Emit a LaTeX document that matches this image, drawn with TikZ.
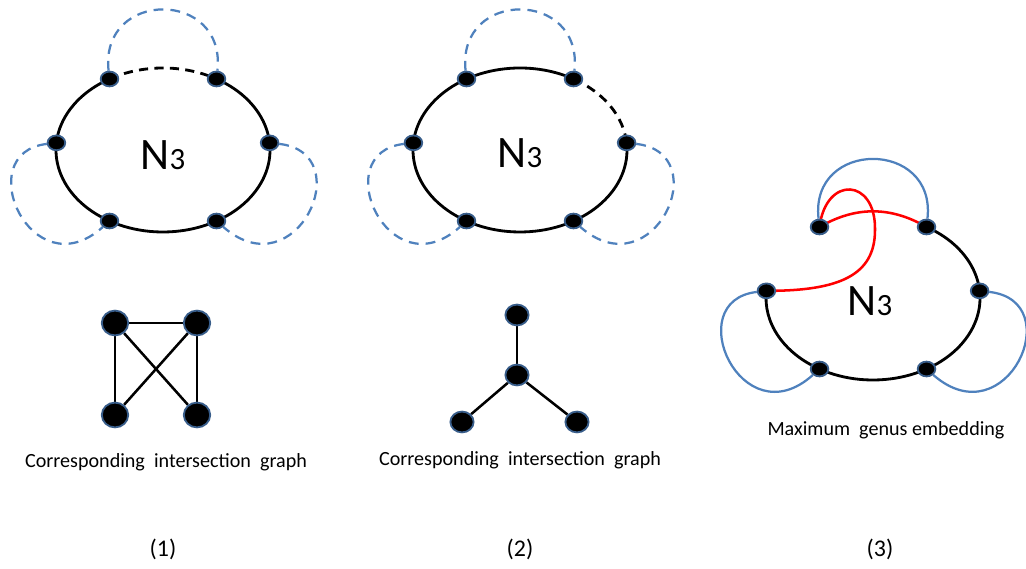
\documentclass[tikz,border=0pt]{standalone}
\usepackage{fontspec}
\setmainfont{Carlito}
\usetikzlibrary{calc,positioning,shapes.geometric,backgrounds}
\definecolor{loopblue}{HTML}{4F81BD}
\definecolor{dotrim}{HTML}{385D8A}
\definecolor{cutred}{HTML}{FF0000}

\begin{document}
\begin{tikzpicture}[x=0.025cm, y=0.025cm,
  every node/.style={font=\fontsize{14.3}{16}\selectfont},
  ring/.style={line width=2pt},
  ringdash/.style={ring, dash pattern=on 6.5pt off 4.5pt},
  dot/.style={ellipse, draw=dotrim, fill=black, line width=1.3pt, minimum width=0.44cm, minimum height=0.37cm, inner sep=0pt},
  bigdot/.style={dot, minimum width=0.66cm, minimum height=0.62cm},
  stardot/.style={dot, minimum width=0.58cm, minimum height=0.52cm},
  dashloop/.style={loopblue, line width=1.6pt, dash pattern=on 7pt off 5pt},
  solidloop/.style={loopblue, line width=1.6pt},
  cut/.style={cutred, line width=1.8pt},
  edge/.style={line width=1.8pt},
  bigN/.style={font=\fontsize{32}{32}\selectfont}]
  \useasboundingbox (0,0) rectangle (1026,569);

  % ring centres
  \coordinate (c1) at (163,419);
  \coordinate (c2) at (520,419);
  \coordinate (c3) at (873,271);

  % dots on the three rings
  \foreach \a/\n in {120/tl,60/tr,175/l,5/r,240/bl,300/br} {
    \node[dot] (\n1) at ($(c1)+(\a:107 and 82)$) {};
    \node[dot] (\n2) at ($(c2)+(\a:107 and 82)$) {};
    \node[dot] (\n3) at ($(c3)+(\a:107 and 82)$) {};
  }

  \node[bigN] (n1) at (163,414) {N{\fontsize{22}{22}\selectfont 3}};
  \node[bigN] (n2) at (520,416) {N{\fontsize{22}{22}\selectfont 3}};
  \node[bigN] (n3) at (870,268) {N{\fontsize{22}{22}\selectfont 3}};

  % intersection graphs
  \node[bigdot] (k1) at (115,246) {};
  \node[bigdot] (k2) at (197,246) {};
  \node[bigdot] (k3) at (115,154) {};
  \node[bigdot] (k4) at (197,154) {};

  \node[stardot] (s0) at (517,194) {};
  \node[stardot] (s1) at (517,254) {};
  \node[stardot] (s2) at (462,147) {};
  \node[stardot] (s3) at (577,147) {};

  \node (cap1) at (166,107) {Corresponding\ \ intersection\ \ graph};
  \node (cap2) at (520,109) {Corresponding\ \ intersection\ \ graph};
  \node (cap3) at (886,139) {Maximum\ \ genus embedding};

  \node[font=\fontsize{17}{19}\selectfont] (lab1) at (163,20) {(1)};
  \node[font=\fontsize{17}{19}\selectfont] (lab2) at (520,20) {(2)};
  \node[font=\fontsize{17}{19}\selectfont] (lab3) at (880,20) {(3)};

  \begin{scope}[on background layer]
    % (1)
    \draw[ring] (tr1.center) arc[start angle=60, end angle=-240, x radius=107, y radius=82];
    \draw[ringdash] (tl1.center) arc[start angle=120, end angle=60, x radius=107, y radius=82];
    \draw[dashloop] (tl1) .. controls ($(tl1)+(-10,90)$) and ($(tr1)+(10,90)$) .. (tr1);
    \draw[dashloop] (l1) .. controls ($(l1)+(-87,-10)$) and ($(bl1)+(-78,-70)$) .. (bl1);
    \draw[dashloop] (r1) .. controls ($(r1)+(90,-10)$) and ($(br1)+(80,-70)$) .. (br1);
    % (2)
    \draw[ring] (r2.center) arc[start angle=5, end angle=-300, x radius=107, y radius=82];
    \draw[ringdash] (tr2.center) arc[start angle=60, end angle=5, x radius=107, y radius=82];
    \draw[dashloop] (tl2) .. controls ($(tl2)+(-10,90)$) and ($(tr2)+(10,90)$) .. (tr2);
    \draw[dashloop] (l2) .. controls ($(l2)+(-87,-10)$) and ($(bl2)+(-78,-70)$) .. (bl2);
    \draw[dashloop] (r2) .. controls ($(r2)+(90,-10)$) and ($(br2)+(80,-70)$) .. (br2);
    % (3)
    \draw[ring] (tr3.center) arc[start angle=60, end angle=-185, x radius=107, y radius=82];
    \draw[solidloop] (tl3) .. controls ($(tl3)+(-10,88)$) and ($(tr3)+(10,88)$) .. (tr3);
    \draw[solidloop] (l3) .. controls ($(l3)+(-87,-10)$) and ($(bl3)+(-78,-70)$) .. (bl3);
    \draw[solidloop] (r3) .. controls ($(r3)+(90,-10)$) and ($(br3)+(80,-70)$) .. (br3);
    \coordinate (kink) at (875,339);
    \draw[cut] (tl3.center) to[bend left=30] (tr3.center);
    \draw[cut] (l3.center) .. controls (840,278) and (875,294) .. (kink)
      .. controls (876,391) and (826,394) .. (tl3.center);
    % graphs
    \draw[edge] (k1) -- (k2);
    \draw[edge] (k1) -- (k3);
    \draw[edge] (k2) -- (k4);
    \draw[edge] (k1) -- (k4);
    \draw[edge] (k2) -- (k3);
    \draw[edge] (s0) -- (s1);
    \draw[edge] (s0) -- (s2);
    \draw[edge] (s0) -- (s3);
  \end{scope}
\end{tikzpicture}
\end{document}
